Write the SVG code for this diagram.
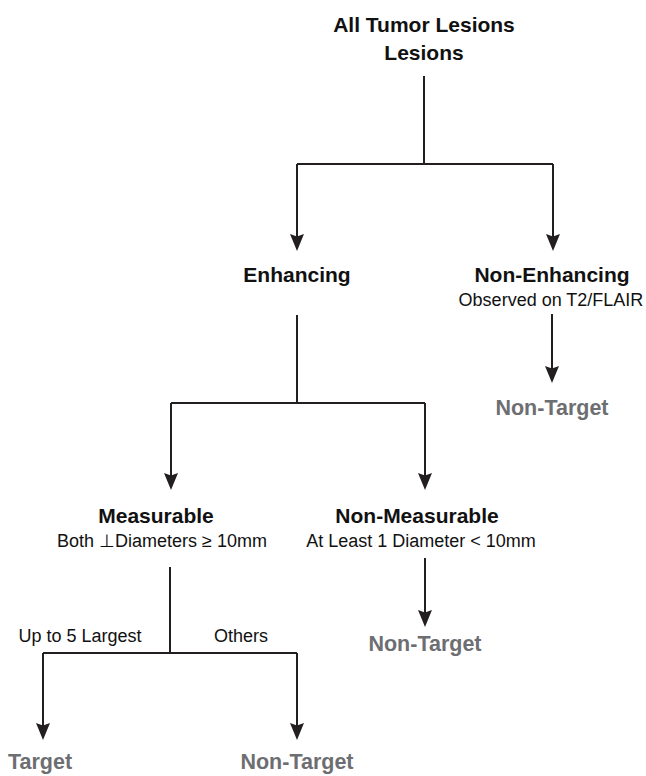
<svg xmlns="http://www.w3.org/2000/svg" width="646" height="776" viewBox="0 0 646 776">
<defs>
<marker id="ah" markerUnits="userSpaceOnUse" markerWidth="18" markerHeight="16" refX="13" refY="7" orient="auto">
<path d="M0,0 L17,7 L0,14 L2.5,7 Z" fill="#231f20"/>
</marker>
<style>
.ln{stroke:#231f20;stroke-width:2;fill:none}
.ar{marker-end:url(#ah)}
.h{font-family:"Liberation Sans",Arial,sans-serif;font-weight:bold;font-size:21px;fill:#111;text-anchor:middle}
.s{font-family:"Liberation Sans",Arial,sans-serif;font-size:18px;fill:#111;text-anchor:middle}
.g{font-family:"Liberation Sans",Arial,sans-serif;font-weight:bold;font-size:21.5px;fill:#6d6e71;text-anchor:middle}
</style>
</defs>
<rect width="646" height="776" fill="#fff"/>
<g id="connectors">
<path class="ln" d="M424,76 V164 M297,164 H553"/>
<path class="ln ar" d="M297,164 V247"/>
<path class="ln ar" d="M553,164 V247"/>
<path class="ln ar" d="M552,314 V379"/>
<path class="ln" d="M297,315 V403 M171,403 H425"/>
<path class="ln ar" d="M171,403 V486"/>
<path class="ln ar" d="M425,403 V486"/>
<path class="ln ar" d="M425,558 V623"/>
<path class="ln" d="M170,567 V653 M43,653 H297"/>
<path class="ln ar" d="M43,653 V736"/>
<path class="ln ar" d="M297,653 V736"/>
<text class="s" x="80" y="642">Up to 5 Largest</text>
<text class="s" x="241" y="642">Others</text>
</g>
<g id="node-all"><text class="h" x="424" y="32">All Tumor Lesions</text><text class="h" x="424" y="60">Lesions</text></g>
<g id="node-enhancing"><text class="h" x="297" y="282">Enhancing</text></g>
<g id="node-nonenhancing"><text class="h" x="552" y="282">Non-Enhancing</text><text class="s" x="551" y="306">Observed on T2/FLAIR</text></g>
<g id="node-nt1"><text class="g" x="552" y="415">Non-Target</text></g>
<g id="node-measurable"><text class="h" x="156" y="523">Measurable</text><text class="s" x="162" y="547">Both ⊥Diameters ≥ 10mm</text></g>
<g id="node-nonmeasurable"><text class="h" x="417" y="523">Non-Measurable</text><text class="s" x="421" y="547">At Least 1 Diameter &lt; 10mm</text></g>
<g id="node-nt2"><text class="g" x="425" y="651">Non-Target</text></g>
<g id="node-target"><text class="g" x="40" y="769">Target</text></g>
<g id="node-nt3"><text class="g" x="297" y="769">Non-Target</text></g>
</svg>
